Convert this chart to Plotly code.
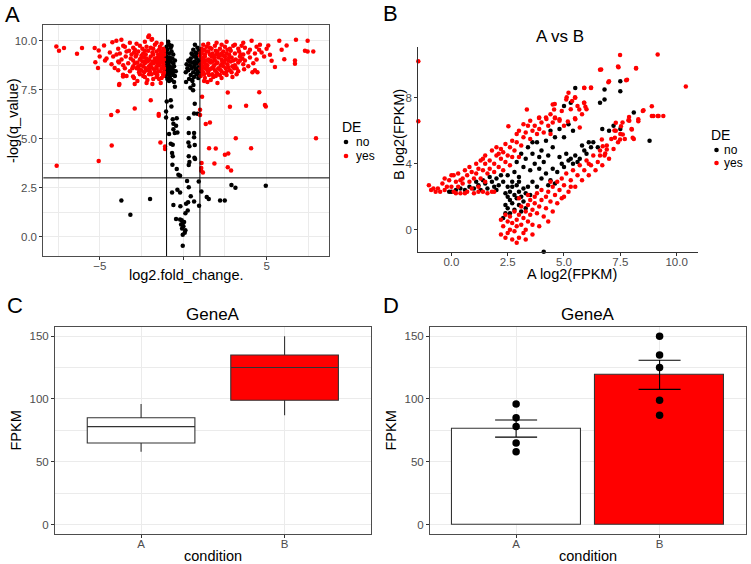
import numpy as np
import plotly.graph_objects as go

FONT = "Liberation Sans, Arial, Helvetica, sans-serif"
W, H = 751, 564

# ---------------- Panel A: volcano plot (log2 fold change, -log q) ----------------
volcano_yes = [
    # sparse red points
    (-7.59, 3.62), (-5.07, 3.86), (-4.29, 4.66), (-4.32, 6.21), (-3.93, 6.41), (-2.91, 6.55),
    (-3.85, 7.74), (-3.83, 7.80), (-2.91, 7.79), (-1.95, 6.96), (-1.47, 6.26), (-1.47, 6.17),
    (-1.37, 4.81), (-1.09, 4.60), (-1.09, 4.47),
    (1.13, 7.14), (2.67, 7.36), (4.56, 7.38), (2.80, 6.63), (3.77, 6.68), (4.90, 6.72), (4.95, 6.65),
    (1.01, 6.48), (1.01, 6.21), (1.35, 5.75), (1.60, 5.83), (1.55, 4.52), (1.95, 4.50), (2.50, 4.18),
    (2.70, 4.25), (3.15, 5.02), (4.07, 4.52), (7.96, 5.03), (1.10, 3.76), (1.08, 3.50), (1.18, 3.28),
    (1.08, 3.37), (1.87, 3.74), (2.67, 3.54), (2.87, 3.38),
    # far-left top
    (-7.61, 9.71), (-7.45, 9.49), (-7.15, 9.63), (-6.37, 9.34), (-6.07, 9.63), (-5.31, 9.63),
    (-5.07, 9.51), (-5.27, 8.91), (-5.11, 8.61), (-4.75, 9.76), (-5.01, 9.20), (-4.69, 9.00),
    (-4.25, 9.93), (-4.01, 10.00), (-3.71, 10.05), (-4.11, 8.61), (-3.61, 8.27), (-3.61, 8.18),
    (-3.01, 8.18), (-2.05, 10.27), (-1.87, 10.10),
    # left dense cluster
    (-2.1, 10.2), (-1.9, 10.05), (-2.3, 9.95), (-1.6, 9.9), (-2.8, 9.85), (-3.2, 9.9), (-1.3, 9.85),
    (-3.5, 9.7), (-3.0, 9.65), (-2.6, 9.75), (-2.2, 9.7), (-1.8, 9.6), (-1.4, 9.7), (-3.9, 9.6),
    (-2.9, 9.55), (-1.2, 9.6), (-2.45, 9.6), (-3.6, 9.75),
    (-4.4, 9.4), (-3.8, 9.35), (-3.4, 9.45), (-3.1, 9.3), (-2.7, 9.45), (-2.4, 9.35), (-2.1, 9.5),
    (-1.85, 9.4), (-1.6, 9.45), (-1.35, 9.35), (-1.15, 9.5), (-2.95, 9.4), (-2.25, 9.3), (-1.5, 9.3),
    (-4.0, 9.3), (-3.25, 9.5),
    (-4.6, 9.1), (-4.2, 9.2), (-3.7, 9.05), (-3.45, 9.2), (-3.15, 9.1), (-2.85, 9.2), (-2.6, 9.05),
    (-2.35, 9.15), (-2.1, 9.0), (-1.95, 9.2), (-1.7, 9.1), (-1.5, 9.0), (-1.3, 9.15), (-1.15, 9.05),
    (-2.5, 9.25), (-1.85, 8.95), (-3.0, 9.0), (-3.9, 8.95), (-2.2, 9.1), (-1.4, 9.2),
    (-4.3, 8.8), (-3.6, 8.75), (-3.3, 8.85), (-3.0, 8.7), (-2.75, 8.9), (-2.55, 8.75), (-2.3, 8.85),
    (-2.05, 8.7), (-1.8, 8.85), (-1.6, 8.7), (-1.4, 8.9), (-1.2, 8.75), (-2.9, 8.85), (-2.15, 8.95),
    (-1.55, 8.85), (-1.25, 8.95), (-3.85, 8.9), (-2.4, 8.7),
    (-3.9, 8.5), (-3.5, 8.6), (-3.2, 8.45), (-2.8, 8.6), (-2.5, 8.5), (-2.25, 8.6), (-2.0, 8.45),
    (-1.75, 8.55), (-1.5, 8.45), (-1.3, 8.6), (-1.15, 8.4), (-2.65, 8.4), (-1.9, 8.65), (-1.6, 8.6),
    (-3.05, 8.6), (-2.35, 8.4),
    (-3.4, 8.2), (-2.95, 8.1), (-2.6, 8.3), (-2.3, 8.15), (-2.05, 8.3), (-1.8, 8.05), (-1.55, 8.25),
    (-1.3, 8.1), (-1.2, 8.3), (-2.75, 7.95), (-1.65, 8.35), (-2.15, 8.0), (-1.45, 8.05),
    (-2.2, 7.85), (-1.85, 7.8), (-1.35, 7.85),
    (-1.25, 9.25), (-1.45, 9.55), (-1.7, 9.8), (-1.95, 9.65), (-2.3, 9.5), (-2.55, 9.1), (-2.8, 9.3),
    (-1.2, 8.85), (-1.45, 8.75), (-1.7, 8.4), (-1.95, 8.8), (-2.2, 8.5), (-2.45, 8.95), (-2.7, 8.7),
    (-1.15, 8.6), (-1.35, 8.45), (-1.6, 8.15), (-1.9, 8.3), (-2.4, 8.2), (-2.65, 8.55), (-1.3, 9.45),
    (-1.55, 9.15), (-1.8, 9.3), (-2.05, 9.05), (-2.3, 8.95), (-1.1, 9.3), (-1.65, 8.95), (-2.0, 8.6),
    (-1.2, 8.2), (-1.4, 9.05),
    # right dense cluster
    (1.5, 9.85), (2.0, 9.9), (2.6, 9.95), (3.1, 9.8), (3.6, 9.9), (4.1, 10.0), (2.3, 9.8), (1.2, 9.8), (4.6, 9.8),
    (1.1, 9.6), (1.4, 9.7), (1.7, 9.6), (1.9, 9.75), (2.2, 9.6), (2.5, 9.7), (2.8, 9.6), (3.0, 9.75),
    (3.3, 9.6), (3.7, 9.65), (4.0, 9.55), (4.4, 9.7), (1.25, 9.55), (2.65, 9.55), (3.5, 9.75),
    (1.05, 9.4), (1.3, 9.3), (1.5, 9.45), (1.75, 9.35), (1.95, 9.5), (2.15, 9.3), (2.4, 9.45),
    (2.6, 9.35), (2.85, 9.5), (3.1, 9.35), (3.35, 9.45), (3.6, 9.3), (3.9, 9.4), (4.3, 9.35),
    (4.7, 9.4), (1.15, 9.5), (2.0, 9.3), (2.75, 9.3), (3.45, 9.3), (1.6, 9.3),
    (1.1, 9.1), (1.3, 9.2), (1.5, 9.05), (1.7, 9.2), (1.9, 9.0), (2.1, 9.15), (2.3, 9.05), (2.5, 9.2),
    (2.7, 9.0), (2.9, 9.15), (3.15, 9.05), (3.4, 9.2), (3.7, 9.0), (4.0, 9.15), (4.4, 9.05), (1.2, 9.0),
    (1.8, 9.25), (2.4, 9.25), (3.0, 9.0), (3.55, 9.1), (1.0, 9.25), (2.2, 9.25),
    (1.05, 8.8), (1.25, 8.9), (1.45, 8.75), (1.65, 8.9), (1.85, 8.75), (2.05, 8.9), (2.25, 8.75),
    (2.45, 8.9), (2.65, 8.8), (2.85, 8.95), (3.1, 8.75), (3.3, 8.9), (3.6, 8.8), (3.9, 8.7),
    (1.15, 8.7), (1.75, 8.95), (2.35, 8.95), (2.95, 8.7), (1.55, 8.95), (4.2, 8.85),
    (1.1, 8.5), (1.3, 8.6), (1.5, 8.45), (1.7, 8.6), (1.9, 8.5), (2.1, 8.6), (2.3, 8.45), (2.55, 8.6),
    (2.8, 8.5), (3.05, 8.6), (3.3, 8.45), (3.65, 8.55), (1.2, 8.4), (2.0, 8.4), (2.7, 8.65), (1.4, 8.65),
    (1.05, 8.2), (1.3, 8.1), (1.55, 8.25), (1.8, 8.15), (2.05, 8.3), (2.3, 8.1), (2.6, 8.25),
    (2.95, 8.15), (1.15, 8.35), (1.65, 8.0), (2.45, 8.35), (3.2, 8.3),
    (1.45, 7.9), (2.05, 7.85), (1.25, 7.95), (4.3, 8.5), (4.45, 8.4), (4.15, 8.4),
    (1.2, 9.15), (1.4, 9.45), (1.6, 9.65), (1.85, 9.15), (2.05, 9.45), (2.3, 9.35), (2.55, 9.05),
    (1.15, 8.95), (1.35, 8.8), (1.6, 8.55), (1.8, 8.65), (2.0, 8.85), (2.2, 8.55), (2.4, 8.7),
    (2.6, 8.45), (1.25, 8.3), (1.5, 8.35), (1.75, 8.3), (1.95, 8.2), (2.2, 8.25), (1.05, 8.6),
    (1.35, 9.0), (1.65, 9.0), (2.75, 9.15), (2.9, 8.4), (3.2, 8.6), (3.4, 9.0), (1.1, 9.35),
    (1.45, 8.5), (2.35, 8.85),
    # far-right top
    (5.10, 9.76), (5.76, 10.00), (6.76, 10.05), (7.46, 10.00), (5.90, 9.54), (6.20, 9.76),
    (7.30, 9.49), (7.46, 9.45), (7.80, 9.45), (5.20, 9.29), (6.06, 9.06), (6.70, 9.00),
    (6.70, 8.83), (5.30, 8.98), (5.50, 8.66), (4.85, 9.20), (4.55, 9.55), (5.00, 9.60),
]

volcano_no = [
    # left top black cluster
    (-0.9, 9.95), (-0.85, 9.8), (-1.0, 9.7), (-0.75, 9.65), (-0.95, 9.55), (-0.7, 9.45), (-1.05, 9.4),
    (-0.85, 9.35), (-0.6, 9.3), (-1.0, 9.2), (-0.8, 9.15), (-0.65, 9.1), (-0.95, 9.05), (-0.5, 9.0),
    (-1.1, 8.95), (-0.75, 8.95), (-0.9, 8.85), (-0.6, 8.85), (-1.0, 8.75), (-0.8, 8.7), (-0.55, 8.7),
    (-0.95, 8.6), (-0.7, 8.6), (-1.1, 8.55), (-0.85, 8.5), (-0.6, 8.5), (-0.45, 8.45), (-1.0, 8.4),
    (-0.75, 8.35), (-0.9, 8.3), (-0.6, 8.25), (-1.05, 8.2), (-0.8, 8.15), (-0.5, 8.2), (-0.95, 8.05),
    (-0.7, 8.0), (-0.85, 7.95), (-0.55, 7.9), (-0.5, 7.65), (-1.15, 9.1), (-0.7, 9.75), (-0.65, 8.4),
    (-0.85, 9.0), (-1.05, 8.9), (-0.9, 8.45),
    # right top black cluster
    (0.7, 9.8), (0.85, 9.65), (0.6, 9.55), (0.95, 9.5), (0.75, 9.4), (0.5, 9.35), (0.9, 9.3),
    (0.65, 9.2), (0.8, 9.1), (0.45, 9.1), (0.95, 9.0), (0.7, 8.95), (0.3, 9.0), (0.55, 8.9),
    (0.85, 8.85), (0.2, 8.8), (0.4, 8.75), (0.65, 8.7), (0.9, 8.65), (0.5, 8.6), (0.75, 8.55),
    (0.3, 8.5), (0.95, 8.45), (0.6, 8.4), (0.15, 8.4), (0.8, 8.3), (0.45, 8.25), (0.65, 8.15),
    (0.9, 8.1), (0.35, 8.05), (0.55, 7.95), (0.17, 7.9), (0.43, 7.6), (0.59, 7.48), (0.8, 9.25),
    (0.25, 8.6), (0.7, 8.8), (0.55, 9.3), (0.85, 8.4), (0.4, 8.95), (0.95, 8.2),
    # scattered black points
    (-0.99, 6.90), (-0.75, 6.96), (-0.71, 6.65), (-1.03, 6.39), (-1.03, 6.09), (-0.63, 6.00),
    (-0.39, 6.05), (-0.59, 5.77), (-0.43, 5.66), (-0.59, 5.49), (-0.85, 5.24), (-0.51, 5.29),
    (-0.35, 5.32), (-0.75, 4.74), (-0.63, 4.69), (-0.67, 4.27), (-0.63, 4.10), (-0.65, 3.67),
    (-0.39, 3.45), (-0.29, 3.16), (-0.19, 3.11), (-0.35, 2.40), (-0.19, 2.26), (-0.67, 2.26),
    (-0.59, 1.62), (-0.43, 0.90), (-0.19, 0.87), (-0.09, 0.83), (-0.03, 0.70), (0.01, 0.53),
    (0.13, 0.32), (-0.03, 0.10), (-0.03, -0.46), (-0.17, 1.55), (0.13, 1.19), (0.33, 6.04),
    (0.33, 5.29), (0.31, 4.81), (0.37, 4.61), (0.33, 4.10), (0.37, 3.81), (0.33, 3.66),
    (0.61, 7.74), (0.53, 8.01), (0.69, 6.79), (0.65, 6.29), (0.65, 5.29), (0.65, 5.07),
    (0.69, 4.68), (0.67, 4.03), (0.71, 3.96), (0.85, 6.28), (0.93, 2.82), (1.09, 2.30),
    (0.23, 2.84), (0.33, 2.52), (0.45, 2.06), (0.29, 1.75), (0.65, 1.80), (0.17, 1.68),
    (0.95, 1.58), (0.27, 1.34), (-3.71, 1.84), (-3.17, 1.12), (-1.99, 1.92), (2.89, 2.64),
    (3.13, 2.50), (2.49, 1.85), (1.41, 2.02), (1.53, 1.92), (2.21, 1.85), (4.95, 2.60),
    (-0.13, 0.62), (0.05, 0.75), (-0.07, 0.42), (0.09, 0.20),
]
fc_cut = 1.0   # |log2 fold change| threshold
q_cut = 3.0    # -log(q) threshold

# ---------------- Panel B: A vs B expression ----------------
scatter_yes = [
    (7.49, 10.59), (9.16, 10.63), (7.42, 9.86), (8.20, 9.78), (6.65, 9.72), (6.97, 8.95), (7.76, 9.07),
    (10.41, 8.69), (5.90, 8.61), (6.20, 8.63), (5.12, 8.04), (5.49, 8.04), (5.36, 7.80), (4.59, 7.63),
    (5.89, 7.70), (5.95, 7.45), (5.68, 7.29), (3.35, 7.29), (4.56, 7.29), (3.89, 6.78), (4.22, 6.72),
    (4.60, 6.76), (5.49, 6.76), (5.17, 6.56), (2.53, 6.28), (-1.47, 10.22), (-1.47, 6.58),
    (8.53, 7.25), (8.90, 7.49), (8.97, 6.89), (9.41, 6.89), (9.16, 6.89), (7.89, 6.84), (8.30, 6.58),
    (7.86, 6.64), (7.53, 6.28), (7.30, 6.48), (7.61, 5.77), (7.24, 6.01), (8.01, 6.08), (8.05, 5.57),
    (7.49, 5.47), (7.26, 5.57), (6.90, 4.86), (6.83, 4.62), (6.68, 5.47), (6.72, 5.06),
    # left / upper cloud
    (-1.0, 2.7), (-0.9, 2.4), (-0.7, 2.3), (-0.6, 2.5), (-0.4, 2.8), (-0.3, 2.4), (-0.2, 2.6), (-0.1, 3.0),
    (0.0, 2.6), (0.1, 3.3), (0.1, 2.3), (0.2, 2.9), (0.3, 3.4), (0.3, 2.6), (0.4, 2.2), (0.5, 3.1),
    (0.5, 2.8), (0.6, 3.6), (0.7, 2.3), (0.7, 3.3), (0.8, 3.8), (0.8, 2.9), (0.9, 3.5), (1.0, 3.1),
    (1.0, 2.2), (1.1, 4.0), (1.1, 3.4), (1.2, 2.3), (1.2, 3.7), (1.3, 4.2), (1.3, 3.1), (1.4, 3.6),
    (1.4, 2.3), (1.5, 4.0), (1.5, 4.5), (1.6, 3.4), (1.6, 2.2), (1.7, 4.2), (1.7, 3.7), (1.8, 4.8),
    (1.8, 2.3), (1.9, 4.0), (1.9, 3.5), (2.0, 4.5), (2.0, 5.0), (2.1, 3.8), (2.2, 4.3), (2.2, 4.9),
    (2.3, 3.6), (2.3, 4.7), (2.4, 5.2), (2.4, 4.1), (2.5, 4.5), (2.6, 5.0), (2.6, 3.9), (2.7, 4.4),
    (2.7, 5.4), (2.8, 4.8), (2.9, 5.3), (2.9, 5.8), (3.0, 4.4), (3.0, 6.0), (3.1, 5.1), (3.2, 5.6),
    (3.2, 6.4), (3.3, 5.9), (3.4, 6.3), (3.5, 5.5), (3.5, 6.6), (3.6, 6.0), (3.7, 6.3), (3.8, 5.8),
    (3.9, 6.8), (3.9, 6.1), (4.0, 6.5), (4.1, 5.9), (4.2, 6.8), (4.3, 6.3), (4.4, 7.0), (4.5, 7.6),
    (4.5, 6.5), (4.6, 6.8), (4.8, 6.6), (4.9, 7.2), (5.1, 7.9), (5.2, 8.3), (5.3, 7.3), (5.5, 8.0),
    (5.6, 7.5), (5.8, 7.0), (5.9, 7.7), (5.9, 8.6), (6.0, 7.3), (6.2, 8.6), (6.6, 9.7), (7.0, 9.0),
    (7.4, 9.9), (7.8, 9.1), (8.2, 9.8), (0.2, 2.2), (-0.5, 2.3), (0.9, 2.5), (1.5, 2.9), (-0.8, 2.5),
    (0.0, 3.3), (0.4, 3.0), (-0.3, 3.1), (1.2, 2.6), (0.6, 2.2), (1.9, 2.3), (2.1, 4.6), (1.4, 4.3),
    (4.8, 6.7), (5.5, 6.7), (5.7, 6.2), (4.4, 5.8), (5.0, 6.3),
    # lower arm
    (2.2, -0.3), (2.3, 0.2), (2.4, -0.5), (2.5, 0.5), (2.5, -0.2), (2.6, 0.0), (2.6, 0.8), (2.7, -0.6),
    (2.7, 0.4), (2.8, 1.1), (2.8, -0.1), (2.9, 0.6), (2.9, 0.2), (3.0, -0.5), (3.0, 0.9), (3.1, 0.3),
    (3.1, 1.4), (3.2, -0.2), (3.2, 0.7), (3.3, 1.1), (3.3, 0.0), (3.4, 0.5), (3.4, 1.5), (3.5, 0.9),
    (3.5, 1.8), (3.6, 1.2), (3.6, 0.3), (3.7, 1.6), (3.7, 2.0), (3.8, 1.0), (3.8, 2.2), (3.9, 1.4),
    (4.0, 1.8), (4.0, 2.4), (4.1, 0.8), (4.2, 2.0), (4.2, 1.3), (4.3, 2.3), (4.4, 1.7), (4.5, 2.6),
    (4.5, 1.1), (4.6, 2.1), (4.7, 2.9), (4.7, 1.6), (4.8, 2.4), (4.9, 3.1), (5.0, 2.0), (5.0, 2.7),
    (5.1, 3.4), (5.2, 2.3), (5.3, 3.0), (5.4, 3.6), (5.5, 2.6), (5.6, 3.3), (5.7, 3.9), (5.8, 3.0),
    (5.9, 3.6), (6.0, 4.2), (6.1, 3.3), (6.2, 3.9), (6.3, 4.5), (6.4, 3.6), (6.5, 4.1), (6.6, 4.8),
    (6.7, 3.9), (6.8, 4.5), (6.9, 5.1), (7.0, 4.3), (7.1, 5.5), (7.2, 4.9), (7.3, 6.0), (7.4, 5.3),
    (7.5, 5.8), (7.6, 6.5), (7.7, 5.5), (7.9, 6.6), (8.0, 6.1), (8.1, 5.5), (8.3, 6.7), (8.5, 7.2),
    (8.9, 6.9), (9.2, 6.9), (2.9, -0.8), (3.3, -0.6), (3.6, -0.3), (2.4, 0.9), (4.3, 0.5), (2.2, 0.6),
    (3.9, 0.2), (4.4, 2.9), (4.9, 1.9), (5.3, 2.6), (6.1, 4.0), (6.6, 4.5), (3.0, 1.9), (3.4, 2.1),
]

scatter_no = [
    # left arm
    (0.0, 2.3), (0.2, 2.4), (0.4, 2.5), (0.6, 2.4), (0.8, 2.6), (1.0, 2.5), (1.2, 2.7), (1.3, 2.4),
    (1.5, 2.8), (1.6, 2.5), (1.8, 2.9), (1.9, 2.6), (2.0, 3.1), (2.1, 2.7), (2.2, 3.3), (2.3, 2.9),
    (1.4, 3.0), (1.7, 3.2), (2.0, 2.4), (1.1, 2.9), (-0.1, 2.3),
    # bottom of the V
    (2.3, 0.7), (2.4, 1.0), (2.5, 1.3), (2.4, 1.5), (2.6, 1.8), (2.5, 2.0), (2.7, 1.6), (2.8, 2.1),
    (2.6, 2.3), (2.9, 1.9), (3.0, 2.3), (2.7, 2.6), (3.1, 2.0), (3.2, 2.5), (2.9, 2.7), (3.3, 2.2),
    (3.4, 2.6), (2.5, 2.6), (2.8, 1.2), (3.0, 1.5), (3.1, 1.1), (2.6, 1.0), (3.2, 1.7), (3.5, 2.1),
    (2.4, 2.2), (2.7, 2.9), (3.0, 2.9), (3.3, 1.3),
    # upper arm
    (2.5, 3.3), (2.8, 3.5), (3.0, 3.2), (3.2, 3.8), (3.3, 4.3), (3.5, 3.6), (3.6, 4.6), (3.4, 5.0),
    (3.7, 4.0), (3.9, 4.4), (3.8, 5.3), (4.0, 4.8), (4.2, 5.4), (4.3, 4.5), (4.5, 5.0), (4.6, 5.6),
    (4.4, 6.0), (4.8, 6.1), (5.0, 5.6), (5.2, 6.4), (5.4, 6.0), (5.0, 7.5), (5.3, 7.7), (5.5, 8.6),
    (3.1, 4.6), (3.6, 5.3), (4.1, 4.1), (2.9, 4.1),
    # lower-right arm
    (3.6, 2.9), (3.8, 2.6), (4.0, 3.1), (4.2, 3.4), (4.4, 3.0), (4.5, 3.7), (4.7, 3.5), (4.9, 4.0),
    (5.0, 3.8), (5.2, 4.2), (5.4, 4.0), (5.5, 4.5), (5.7, 4.3), (5.9, 4.8), (6.0, 4.6), (6.2, 5.0),
    (6.3, 5.3), (6.5, 5.0), (6.7, 6.1), (7.0, 6.0), (7.2, 6.3), (7.5, 6.1), (8.1, 7.1), (8.8, 5.4),
    (6.6, 7.7), (6.8, 7.9), (7.5, 8.4), (7.5, 9.0), (6.8, 8.5), (4.6, 2.8), (5.1, 4.6), (5.8, 5.1),
    (3.9, 3.7), (4.3, 2.7), (4.1, -1.34), (5.3, 4.3), (5.6, 4.1), (6.1, 5.3), (4.8, 4.4),
]

# ---------------- Panels C & D: GeneA FPKM per condition ----------------
conditions = ["A", "B"]
fpkm_A = [58, 65, 78, 85, 96]
fpkm_B = [87, 99, 125, 135, 150]
fill_colors = ["white", "red"]
de_levels = ["no", "yes"]
de_colors = ["black", "red"]

# ---------------- figure ----------------
def unzip(pts):
    return [p[0] for p in pts], [p[1] for p in pts]

fig = go.Figure()
GRID = "#EBEBEB"
BORDER = "#4D4D4D"
TICKFONT = dict(family=FONT, size=11.5, color="#4D4D4D")

for lvl, col, pts in zip(de_levels, de_colors, [volcano_no, volcano_yes]):
    xs, ys = unzip(pts)
    fig.add_trace(go.Scatter(x=xs, y=ys, mode="markers", name=lvl, showlegend=False,
                             marker=dict(color=col, size=4.5), xaxis="x", yaxis="y"))

for lvl, col, pts in zip(de_levels, de_colors, [scatter_no, scatter_yes]):
    xs, ys = unzip(pts)
    fig.add_trace(go.Scatter(x=xs, y=ys, mode="markers", name=lvl, showlegend=False, cliponaxis=False,
                             marker=dict(color=col, size=4.5), xaxis="x2", yaxis="y2"))

# Panel C boxplots (quartiles as in R's default for n=5)
for cond, vals, col in zip(conditions, [fpkm_A, fpkm_B], fill_colors):
    fig.add_trace(go.Box(x=[cond] * len(vals), y=vals, name=cond, boxpoints=False,
                         quartilemethod="inclusive", fillcolor=col, width=0.75, whiskerwidth=0,
                         line=dict(color="#333333", width=1.1), showlegend=False,
                         xaxis="x3", yaxis="y3"))

# Panel D bars with SE
groups = [np.array(fpkm_A, float), np.array(fpkm_B, float)]
means = [g.mean() for g in groups]
ses = [g.std(ddof=1) / np.sqrt(len(g)) for g in groups]
fig.add_trace(go.Bar(x=conditions, y=means, width=0.9, showlegend=False,
                     marker=dict(color=fill_colors, line=dict(color="#333333", width=1.1)),
                     error_y=dict(type="data", array=ses, visible=True, color="black",
                                  thickness=1.1, width=21),
                     xaxis="x4", yaxis="y4"))
pts_x = ["A"] * len(fpkm_A) + ["B"] * len(fpkm_B)
pts_y = fpkm_A + fpkm_B
fig.add_trace(go.Scatter(x=pts_x, y=pts_y, mode="markers", showlegend=False,
                         marker=dict(color="black", size=7.5), xaxis="x4", yaxis="y4"))

def bw_axis(domain, rng, anchor, **kw):
    d = dict(domain=domain, range=rng, anchor=anchor, showline=True, mirror=True,
             linecolor=BORDER, linewidth=1, showgrid=True, gridcolor=GRID, gridwidth=1,
             zeroline=False, ticks="outside", ticklen=3, tickcolor="#333333", tickwidth=1,
             tickfont=TICKFONT)
    d.update(kw)
    return d

def px2x(p):
    return p / W

def px2y(p):
    return 1 - p / H

A_x = [0.0577, 0.4385]; A_y = [0.5461, 0.9557]
B_x = [0.5570, 0.9294]; B_y = [0.5537, 0.9172]
C_x = [0.0732, 0.4936]; CD_y = [0.0532, 0.4207]
D_x = [0.5726, 0.9929]
XSTAND = -4

fig.update_layout(
    width=W, height=H, autosize=False,
    margin=dict(l=0, r=0, t=0, b=0, autoexpand=False),
    paper_bgcolor="white", plot_bgcolor="white",
    font=dict(family=FONT, color="black"),
    showlegend=False,
    xaxis=bw_axis(A_x, [-8.39, 8.76], "y", tickvals=[-5, 0, 5], ticktext=["\u22125", "", "5"],
                  ticklabelstandoff=XSTAND,
                  minor=dict(dtick=2.5, tick0=0, showgrid=True, gridcolor=GRID, gridwidth=0.6, ticks="")),
    yaxis=bw_axis(A_y, [-0.99, 10.81], "x", tickvals=[0, 2.5, 5, 7.5, 10],
                  ticktext=["0.0", "2.5", "5.0", "7.5", "10.0"],
                  minor=dict(dtick=1.25, tick0=0, showgrid=True, gridcolor=GRID, gridwidth=0.6, ticks="")),
    xaxis2=dict(domain=B_x, range=[-1.47, 10.95], anchor="y2", showline=True, mirror=False,
                linecolor="#333333", linewidth=1, showgrid=False, zeroline=False, ticks="outside",
                ticklen=3, tickcolor="#333333", tickvals=[0, 2.5, 5, 7.5, 10], tickformat=".1f",
                tickfont=TICKFONT, ticklabelstandoff=XSTAND),
    yaxis2=dict(domain=B_y, range=[-1.34, 11.1], anchor="x2", showline=True, mirror=False,
                linecolor="#333333", linewidth=1, showgrid=False, zeroline=False, ticks="outside",
                ticklen=3, tickcolor="#333333", tickvals=[0, 4, 8], tickfont=TICKFONT),
    xaxis3=bw_axis(C_x, [-0.6, 1.6], "y3", type="category", categoryorder="array",
                   categoryarray=conditions, ticklabelstandoff=XSTAND),
    yaxis3=bw_axis(CD_y, [-7.5, 157.5], "x3", tickvals=[0, 50, 100, 150],
                   minor=dict(dtick=25, tick0=0, showgrid=True, gridcolor=GRID, gridwidth=0.6, ticks="")),
    xaxis4=bw_axis(D_x, [-0.6, 1.6], "y4", type="category", categoryorder="array",
                   categoryarray=conditions, ticklabelstandoff=XSTAND),
    yaxis4=bw_axis(CD_y, [-7.5, 157.5], "x4", tickvals=[0, 50, 100, 150],
                   minor=dict(dtick=25, tick0=0, showgrid=True, gridcolor=GRID, gridwidth=0.6, ticks="")),
    bargap=0,
)

# threshold lines in panel A
for xv in (-fc_cut, fc_cut):
    fig.add_shape(type="line", xref="x", yref="y domain", x0=xv, x1=xv, y0=0, y1=1,
                  line=dict(color="black", width=1))
fig.add_shape(type="line", xref="x domain", yref="y", x0=0, x1=1, y0=q_cut, y1=q_cut,
              line=dict(color="black", width=1))

def ann(text, px, py, size, angle=0, xanchor="center", color="black"):
    fig.add_annotation(text=text, x=px2x(px), y=px2y(py), xref="paper", yref="paper",
                       showarrow=False, xanchor=xanchor, yanchor="middle", textangle=angle,
                       font=dict(family=FONT, size=size, color=color))

# legends ("DE": no / yes) for panels A and B
def de_legend(title_x, title_y, dot_x, text_x, row_y):
    ann("DE", title_x, title_y, 14, xanchor="left")
    for lvl, col, ry in zip(de_levels, de_colors, row_y):
        fig.add_shape(type="circle", xref="paper", yref="paper", xsizemode="pixel", ysizemode="pixel",
                      xanchor=px2x(dot_x), yanchor=px2y(ry), x0=-2.3, x1=2.3, y0=-2.3, y1=2.3,
                      fillcolor=col, line=dict(width=0))
        ann(lvl, text_x, ry, 12, xanchor="left")

de_legend(340, 127, 346, 354, [142, 156])
de_legend(709, 135, 716.5, 722, [150, 163])

# panel letters
ann("A", 12.5, 15, 22)
ann("B", 390, 14, 22)
ann("C", 15, 305, 22)
ann("D", 391, 305, 22)
# titles
ann("A vs B", 560, 37, 17)
ann("GeneA", 213, 314.5, 17)
ann("GeneA", 588, 314.5, 17)
# axis titles
ann("log2.fold_change.", 186, 275, 14.5)
ann("-log(q_value)", 13, 121, 14.5, -90)
ann("A log2(FPKM)", 572, 274, 14.5)
ann("B log2(FPKM)", 399, 134, 14.5, -90)
ann("condition", 213, 556, 14.5)
ann("condition", 588, 556, 14.5)
ann("FPKM", 15.5, 431, 14.5, -90)
ann("FPKM", 390.5, 431, 14.5, -90)

fig.write_html("out.html", config={"displayModeBar": False},
               post_script="document.body.style.margin='0px';")
